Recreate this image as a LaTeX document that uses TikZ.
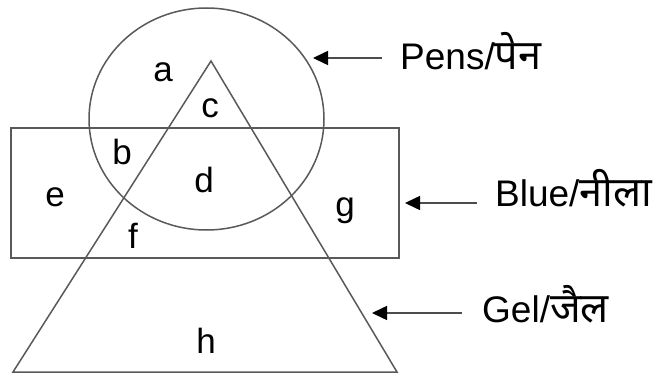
\documentclass[tikz,border=0pt]{standalone}
\usepackage{fontspec}
\setmainfont{Liberation Sans}
\newfontfamily\deva[Script=Devanagari,Scale=1.12]{Noto Sans}
\usetikzlibrary{arrows.meta}
\begin{document}
\begin{tikzpicture}[x=1pt,y=-1pt,
  shapeline/.style={draw=black!65,line width=1.5pt},
  lbl/.style={font=\fontsize{35}{40}\selectfont,inner sep=0pt,anchor=base},
  side/.style={font=\fontsize{37}{42}\selectfont,inner sep=0pt,anchor=base west},
  arr/.style={draw=black!70,line width=1.5pt,-{Triangle[length=15pt,width=14pt,color=black]}}]
\useasboundingbox (0,0) rectangle (667,377);
% shapes
\draw[shapeline] (11,128) rectangle (399,258);
\draw[shapeline] (206.5,119) ellipse [x radius=117.5pt,y radius=111pt];
\draw[shapeline] (211,61) -- (397,372) -- (13,372) -- cycle;
% region labels
\node[lbl] (la) at (163,82) {a};
\node[lbl] (lc) at (210,118) {c};
\node[lbl] (lb) at (122,165) {b};
\node[lbl] (ld) at (204,193) {d};
\node[lbl] (le) at (55,207) {e};
\node[lbl] (lf) at (133,248) {f};
\node[lbl] (lg) at (345,216) {g};
\node[lbl] (lh) at (206,353) {h};
% side labels
\node[side] (pens) at (400,70) {Pens/{\deva पेन}};
\node[side] (blue) at (495,206) {Blue/{\deva नीला}};
\node[side] (gel) at (482,322) {Gel/{\deva जैल}};
\coordinate (pa) at (382,58);
\coordinate (pt) at (313,58);
\coordinate (ba) at (477,203);
\coordinate (bt) at (405,203);
\coordinate (ga) at (462,313);
\coordinate (gt) at (372,313);
\draw[arr] (pa) -- (pt);
\draw[arr] (ba) -- (bt);
\draw[arr] (ga) -- (gt);
\end{tikzpicture}
\end{document}
